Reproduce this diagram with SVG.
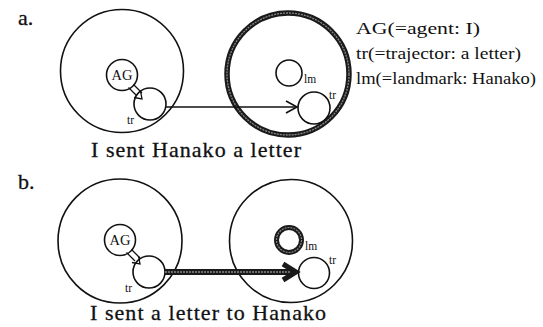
<svg xmlns="http://www.w3.org/2000/svg" width="543" height="327" viewBox="0 0 543 327">
<defs>
<style>
.c{fill:none;stroke:#111;stroke-width:1.6}
.big{fill:none;stroke:#111;stroke-width:1.6}
.lbl{font-family:"Liberation Serif",serif;font-size:11.5px;fill:#111}
.ag{font-family:"Liberation Serif",serif;font-size:14.5px;fill:#111}
.cap{font-family:"Liberation Serif",serif;font-size:22px;fill:#111;stroke:#111;stroke-width:0.3}
.leg{font-family:"Liberation Serif",serif;font-size:17px;fill:#111}
</style>
</defs>
<rect width="543" height="327" fill="#fff"/>
<text class="cap" x="18" y="25">a.</text>
<text class="cap" x="18" y="189">b.</text>
<g id="legend">
<text class="leg" x="356" y="34" textLength="124" lengthAdjust="spacingAndGlyphs">AG(=agent: I)</text>
<text class="leg" x="356" y="59" textLength="165" lengthAdjust="spacingAndGlyphs">tr(=trajector: a letter)</text>
<text class="leg" x="356" y="84" textLength="180" lengthAdjust="spacingAndGlyphs">lm(=landmark: Hanako)</text>
</g>
<g id="a-left">
<circle class="big" cx="122" cy="71" r="61.5"/>
</g>
<g id="a-AG">
<circle class="c" cx="122" cy="75" r="15.5"/>
<text class="ag" x="122" y="80" text-anchor="middle">AG</text>
</g>
<g id="a-tr1">
<circle class="c" cx="150" cy="104" r="16"/>
<text class="lbl" x="127" y="124">tr</text>
</g>
<g id="a-right">
<circle cx="288" cy="74" r="61" fill="none" stroke="#1a1a1a" stroke-width="5.5"/>
<circle cx="288" cy="74" r="61" fill="none" stroke="#888" stroke-width="1.3" stroke-dasharray="2 1"/>
</g>
<g id="a-lm">
<circle class="c" cx="289" cy="73" r="13"/>
<text class="lbl" x="304" y="83">lm</text>
</g>
<g id="a-tr2">
<circle class="c" cx="314" cy="108" r="16"/>
<text class="lbl" x="329" y="99">tr</text>
</g>
<text class="cap" x="91" y="157" textLength="210" lengthAdjust="spacing">I sent Hanako a letter</text>

<g id="b-left">
<circle class="big" cx="120" cy="241" r="62"/>
</g>
<g id="b-AG">
<circle class="c" cx="120" cy="240" r="15.5"/>
<text class="ag" x="120" y="245" text-anchor="middle">AG</text>
</g>
<g id="b-tr1">
<circle class="c" cx="149" cy="272" r="16"/>
<text class="lbl" x="125" y="292">tr</text>
</g>
<g id="b-right">
<circle class="big" cx="291" cy="241" r="61.5"/>
</g>
<g id="b-lm">
<circle cx="289" cy="240" r="12.5" fill="none" stroke="#1a1a1a" stroke-width="5"/>
<circle cx="289" cy="240" r="12.5" fill="none" stroke="#888" stroke-width="1.2" stroke-dasharray="2 1"/>
<text class="lbl" x="305" y="250">lm</text>
</g>
<g id="b-tr2">
<circle class="c" cx="314" cy="273" r="15.5"/>
<text class="lbl" x="329" y="264">tr</text>
</g>
<text class="cap" x="90" y="320" textLength="236" lengthAdjust="spacing">I sent a letter to Hanako</text>

<g id="connectors">
<path d="M128.5 87.5 L137 96 M133.5 84.5 L142 93" fill="none" stroke="#111" stroke-width="1.3"/>
<path d="M134 97.5 L142 99 L140.5 91" fill="none" stroke="#111" stroke-width="1.3"/>
<line x1="166" y1="107" x2="297" y2="107" stroke="#111" stroke-width="1.6"/>
<path d="M286 101 L297 107 L286 113" fill="none" stroke="#111" stroke-width="1.6"/>
<path d="M126.5 252.5 L135 261 M131.5 249.5 L140 258" fill="none" stroke="#111" stroke-width="1.3"/>
<path d="M132 262.5 L140 264 L138.5 256" fill="none" stroke="#111" stroke-width="1.3"/>
<line x1="165" y1="272" x2="294" y2="272" stroke="#1a1a1a" stroke-width="6"/>
<line x1="165" y1="272" x2="292" y2="272" stroke="#888" stroke-width="1.6" stroke-dasharray="2 1"/>
<path d="M283 264 L296 272 L283 280" fill="none" stroke="#1a1a1a" stroke-width="5"/>
</g>
</svg>
